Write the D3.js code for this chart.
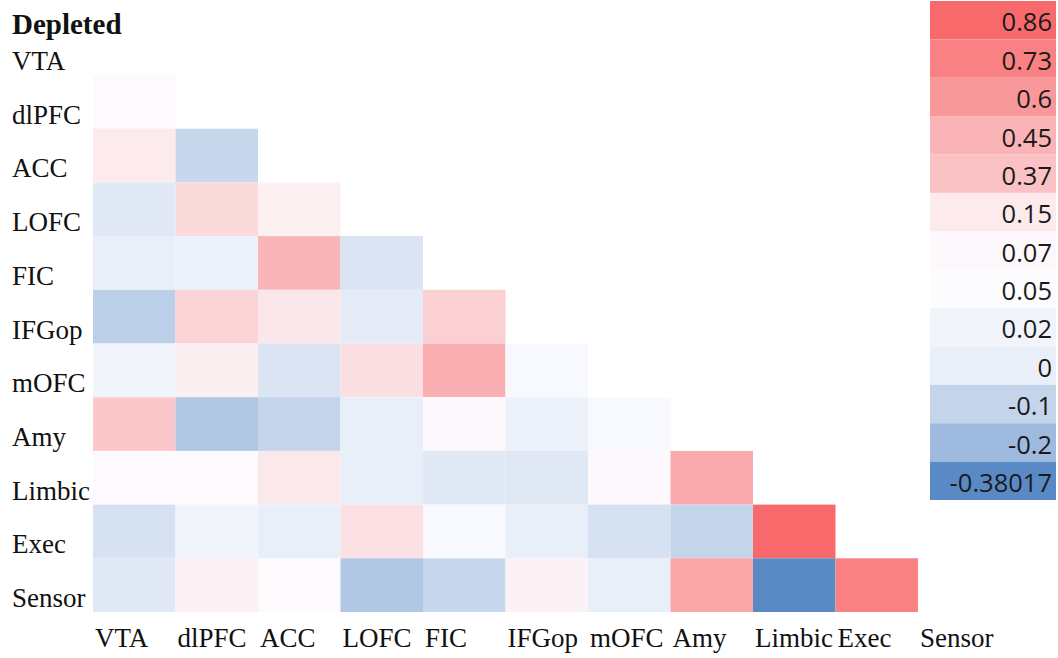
<!DOCTYPE html>
<html>
<head>
<meta charset="utf-8">
<script src="https://cdn.jsdelivr.net/npm/d3@7"></script>
<style>
  body { margin: 0; background: #fff; }
</style>
</head>
<body>
<script>
var width = 1058;
var height = 658;

var regions = ['VTA', 'dlPFC', 'ACC', 'LOFC', 'FIC', 'IFGop', 'mOFC', 'Amy', 'Limbic', 'Exec', 'Sensor'];

// lower triangle, one array per row (row i has i values, columns VTA..)
var vVTA = [];
var vdlPFC = [0.06];
var vACC = [0.15, -0.09];
var vLOFC = [-0.02, 0.24, 0.115];
var vFIC = [0.0, 0.01, 0.44, -0.04];
var vIFGop = [-0.12, 0.27, 0.165, -0.015, 0.29];
var vmOFC = [0.02, 0.12, -0.04, 0.21, 0.47, 0.04];
var vAmy = [0.34, -0.15, -0.1, 0.0, 0.07, 0.01, 0.04];
var vLimbic = [0.06, 0.06, 0.16, 0.0, -0.02, -0.025, 0.07, 0.5];
var vExec = [-0.05, 0.02, 0.0, 0.2, 0.04, 0.0, -0.05, -0.1, 0.86];
var vSensor = [-0.02, 0.11, 0.06, -0.15, -0.09, 0.11, 0.0, 0.52, -0.38017, 0.73];
var values = [vVTA, vdlPFC, vACC, vLOFC, vFIC, vIFGop, vmOFC, vAmy, vLimbic, vExec, vSensor];

var legendValues = [0.86, 0.73, 0.6, 0.45, 0.37, 0.15, 0.07, 0.05, 0.02, 0, -0.1, -0.2, -0.38017];

var color = d3.scaleLinear()
              .domain([-0.38017, 0.05, 0.86])
              .range(['#5A8AC6', '#FCFCFF', '#F8696B']);

var svg = d3.select("body")
            .append("svg")
            .attr("width", width)
            .attr("height", height);

svg.append("rect")
   .attr("width", width)
   .attr("height", height)
   .attr("fill", "#fff");

var x = d3.scaleBand()
          .domain(regions)
          .range([93, 93 + 82.5 * regions.length]);

var y = d3.scaleBand()
          .domain(regions)
          .range([612 - 53.7 * regions.length, 612]);

var cells = [];
values.forEach(function(row, i) {
    row.forEach(function(v, j) {
        cells.push({row: regions[i], col: regions[j], value: v});
    });
});

svg.selectAll("rect.cell")
   .data(cells)
   .enter()
   .append("rect")
   .attr("class", "cell")
   .attr("x", function(d) { return x(d.col); })
   .attr("y", function(d) { return y(d.row); })
   .attr("width", x.bandwidth())
   .attr("height", y.bandwidth())
   .attr("fill", function(d) { return color(d.value); });

svg.append("text")
   .attr("x", 12)
   .attr("y", 34)
   .attr("font-family", "Liberation Serif, Times New Roman, serif")
   .attr("font-size", "29px")
   .attr("font-weight", "bold")
   .attr("fill", "#111")
   .text("Depleted");

svg.selectAll("text.rowlab")
   .data(regions)
   .enter()
   .append("text")
   .attr("class", "rowlab")
   .attr("x", 12)
   .attr("y", function(d) { return y(d) + y.bandwidth() - 5; })
   .attr("font-family", "Liberation Serif, Times New Roman, serif")
   .attr("font-size", "27px")
   .attr("fill", "#111")
   .text(function(d) { return d; });

svg.selectAll("text.collab")
   .data(regions)
   .enter()
   .append("text")
   .attr("class", "collab")
   .attr("x", function(d) { return x(d) + 2; })
   .attr("y", 647)
   .attr("font-family", "Liberation Serif, Times New Roman, serif")
   .attr("font-size", "27px")
   .attr("fill", "#111")
   .text(function(d) { return d; });

// legend
var ly = d3.scaleBand()
           .domain(d3.range(legendValues.length))
           .range([1, 500]);

var leg = svg.selectAll("g.leg")
             .data(legendValues)
             .enter()
             .append("g")
             .attr("class", "leg")
             .attr("transform", function(d, i) {
                 return "translate(930," + ly(i) + ")";
             });

leg.append("rect")
   .attr("width", 126)
   .attr("height", ly.bandwidth())
   .attr("fill", function(d) { return color(d); });

leg.append("text")
   .attr("x", 122)
   .attr("y", ly.bandwidth() - 8)
   .attr("text-anchor", "end")
   .attr("font-family", "Open Sans, sans-serif")
   .attr("font-size", "25.5px")
   .attr("fill", "#1a1a1a")
   .text(function(d) { return d; });
</script>
</body>
</html>
